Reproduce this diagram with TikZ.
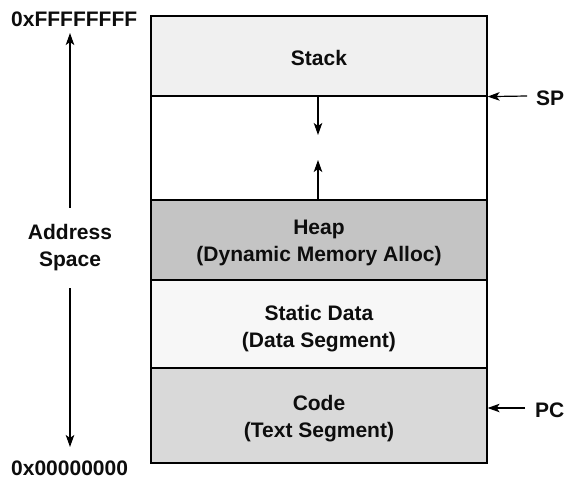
\documentclass[tikz,border=0pt]{standalone}
\usepackage{fontspec}
\setmainfont{Liberation Sans}
\usetikzlibrary{arrows.meta}
\definecolor{stackc}{HTML}{F0F0F0}
\definecolor{heapc}{HTML}{C4C4C4}
\definecolor{staticc}{HTML}{F7F7F7}
\definecolor{codec}{HTML}{D9D9D9}
\begin{document}
\begin{tikzpicture}[x=1pt,y=-1pt,
  every node/.style={font=\bfseries\fontsize{21}{27}\selectfont, text=black!95, align=center, inner sep=0pt},
  seg/.style={draw, line width=1.2pt, minimum width=336pt},
  conn/.style={line width=1.2pt, -{Stealth[length=12pt,width=8.5pt,inset=3pt]}}]
\useasboundingbox[fill=white] (0,0) rectangle (567,479);
% segments
\node[seg, fill=white, minimum height=104pt] (gap) at (319,148) {};
\node[seg, fill=stackc, minimum height=80pt] (stack) at (319,56) {};
\node[seg, fill=heapc, minimum height=80pt] (heap) at (319,240) {};
\node[seg, fill=staticc, minimum height=88pt] (static) at (319,324) {};
\node[seg, fill=codec, minimum height=95pt] (code) at (319,415.5) {};
\node (stackt) at ([yshift=-2pt]stack.center) {Stack};
\node (heapt) at ([yshift=-3pt]heap.center) {Heap\\(Dynamic Memory Alloc)};
\node (statict) at ([yshift=-5pt]static.center) {Static Data\\(Data Segment)};
\node (codet) at ([yshift=-3pt]code.center) {Code\\(Text Segment)};
% growth arrows
\coordinate (stackend) at (318,135);
\coordinate (heapend) at (318,160);
\draw[conn] (stack.south -| stackend) -- (stackend);
\draw[conn] (heap.north -| heapend) -- (heapend);
% left axis
\node (addr) [minimum height=80pt] at (70,248) {Address\\Space};
\node (top) [anchor=west] at (11,19) {0xFFFFFFFF};
\node (bot) [anchor=west] at (11,468) {0x00000000};
\coordinate (uptip) at (70,33);
\coordinate (downtip) at (70,447);
\draw[conn] (addr.north) -- (uptip);
\draw[conn] (addr.south) -- (downtip);
% SP and PC
\node (sp) [anchor=west] at (536,98) {SP};
\node (pc) [anchor=west] at (535,410) {PC};
\coordinate (spstart) at (527,96);
\coordinate (pcstart) at (525,408);
\draw[conn] (spstart) -- (stack.south east);
\draw[conn] (pcstart) -- (code.east |- pcstart);
\end{tikzpicture}
\end{document}
